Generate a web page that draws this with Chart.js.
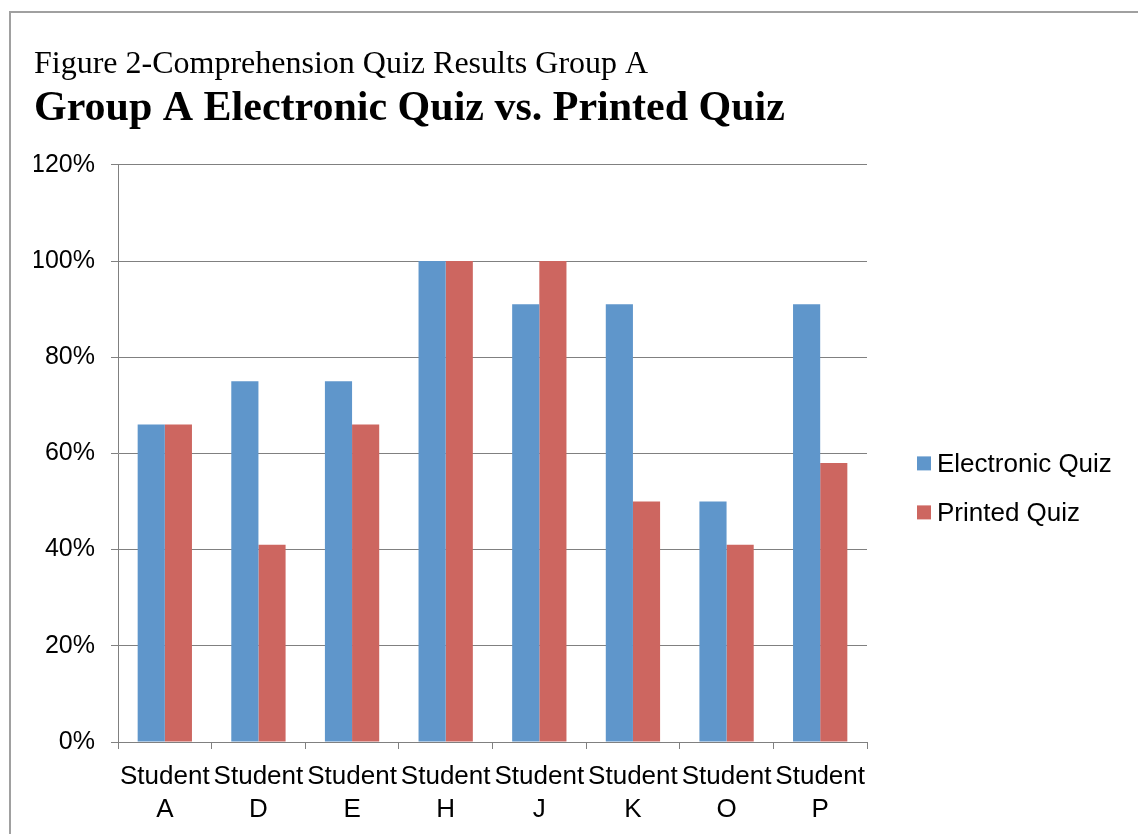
<!DOCTYPE html>
<html>
<head>
<meta charset="utf-8">
<script src="https://cdn.jsdelivr.net/npm/chart.js@4.4.1/dist/chart.umd.min.js"></script>
<style>
  body { margin: 0; background: #fff; }
  #wrap { position: relative; width: 1138px; height: 834px; overflow: hidden; }
  #frame { position: absolute; left: 9px; top: 11px; width: 1200px; height: 900px; border: 2px solid #a0a0a0; box-sizing: border-box; }
  #quiz_chart { position: absolute; left: 0; top: 0; }
</style>
</head>
<body>
<div id="wrap">
  <div id="frame"></div>
  <canvas id="quiz_chart" width="1138" height="834"></canvas>
</div>
<script>
// data
let students = [["Student","A"],["Student","D"],["Student","E"],["Student","H"],["Student","J"],["Student","K"],["Student","O"],["Student","P"]];
let electronicQuiz = [66, 75, 75, 100, 91, 91, 50, 91];
let printedQuiz = [66, 41, 66, 100, 100, 50, 41, 58];
let yTicks = [0, 20, 40, 60, 80, 100, 120];

const sansFont = "'Liberation Sans', Arial, sans-serif";
const serifFont = "'Liberation Serif', 'Times New Roman', serif";

// legend drawn to the right of the plot, like excel does it
const sideLegend = {
    id: "sideLegend",
    afterDraw(chart) {
        let ctx = chart.ctx;
        let area = chart.chartArea;
        let x = area.right + 50;
        let y = (area.top + area.bottom) / 2 + 10;
        ctx.save();
        ctx.font = "26px " + sansFont;
        ctx.textBaseline = "middle";
        chart.data.datasets.forEach((ds, i) => {
            let cy = y + i * 49;
            ctx.fillStyle = ds.backgroundColor;
            ctx.fillRect(x, cy - 7, 14, 14);
            ctx.fillStyle = "#000";
            ctx.fillText(ds.label, x + 20, cy + 1);
        });
        ctx.restore();
    }
};

new Chart("quiz_chart", {
    type: "bar",
    data: {
        labels: students,
        datasets: [{
            label: "Electronic Quiz",
            data: electronicQuiz,
            backgroundColor: "#5f96cb",
            barPercentage: 1,
            categoryPercentage: 0.58
        }, {
            label: "Printed Quiz",
            data: printedQuiz,
            backgroundColor: "#cd6660",
            barPercentage: 1,
            categoryPercentage: 0.58
        }]
    },
    options: {
        responsive: false,
        animation: false,
        layout: { padding: { left: 34, right: 271, top: 0, bottom: 0 } },
        plugins: {
            legend: { display: false },
            tooltip: { enabled: false },
            title: {
                display: true,
                text: "Figure 2-Comprehension Quiz Results Group A",
                align: "start",
                color: "#000",
                font: { family: serifFont, size: 32, weight: "normal", lineHeight: 1.2 },
                padding: { top: 45, bottom: 0 }
            },
            subtitle: {
                display: true,
                text: "Group A Electronic Quiz vs. Printed Quiz",
                align: "start",
                color: "#000",
                font: { family: serifFont, size: 42, weight: "bold", lineHeight: 1.2 },
                padding: { top: 1, bottom: 30 }
            }
        },
        scales: {
            x: {
                offset: true,
                grid: { display: true, offset: true, drawOnChartArea: false, color: "#808080", tickLength: 7 },
                border: { color: "#808080" },
                ticks: { color: "#000", font: { family: sansFont, size: 26, lineHeight: 1.27 }, padding: 11, maxRotation: 0, autoSkip: false },
                afterFit(scale) { scale.height = 92; }
            },
            y: {
                min: 0,
                max: 120,
                afterBuildTicks(scale) { scale.ticks = yTicks.map(v => ({ value: v })); },
                grid: { color: "#808080", tickLength: 7 },
                border: { color: "#808080" },
                ticks: {
                    color: "#000",
                    font: { family: sansFont, size: 25 },
                    padding: 16,
                    callback: v => v + "%"
                },
                afterFit(scale) { scale.width = 84; }
            }
        }
    },
    plugins: [sideLegend]
});
</script>
</body>
</html>
